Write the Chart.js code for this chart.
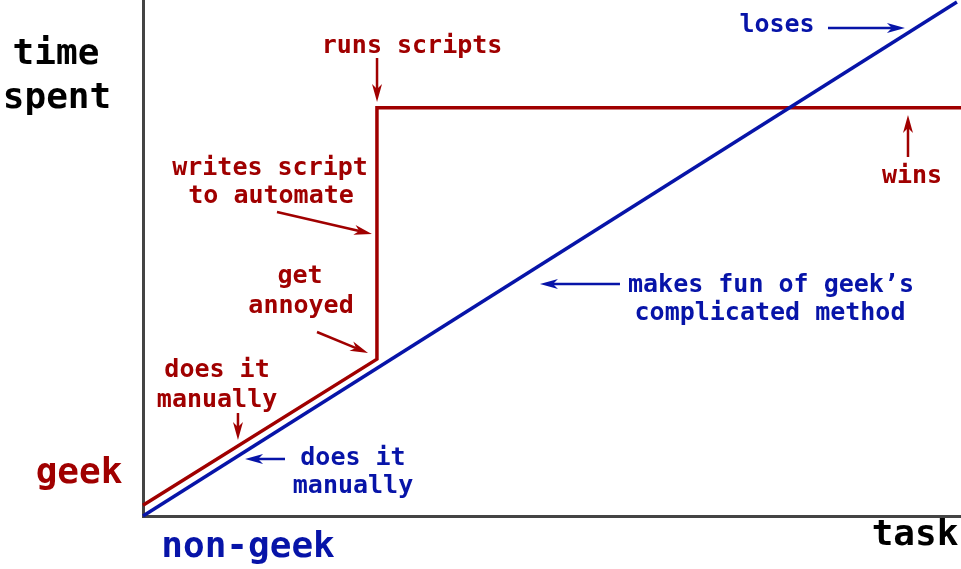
<!DOCTYPE html>
<html>
<head>
<meta charset="utf-8">
<script src="https://cdn.jsdelivr.net/npm/chart.js@4.4.0/dist/chart.umd.min.js"></script>
<style>
  html, body { margin: 0; padding: 0; background: #ffffff; }
  #wrap { width: 961px; height: 569px; position: relative; }
</style>
</head>
<body>
<div id="wrap"><canvas id="c"></canvas></div>
<script>
// ---- data (task on x, time spent on y, both 0..100) ----
const nonGeekX = [0, 99.5];
const nonGeekY = [0, 99.6];
const geekX = [0, 28.6, 28.6, 100];
const geekY = [2.1, 30.4, 79.1, 79.1];

const RED = '#a00000';
const BLUE = '#0714a8';
const BLACK = '#000000';

// text labels: text, x, y (baseline), colour, size
const labelText  = ['time', 'spent', 'geek', 'non-geek', 'task',
  'runs scripts', 'writes script', 'to automate', 'get', 'annoyed',
  'does it', 'manually', 'does it', 'manually', 'loses', 'wins',
  "makes fun of geek\u2019s", 'complicated method'];
const labelX = [-10.64, -10.51, -7.82, 12.84, 94.38,
  32.89, 15.53, 15.65, 19.19, 19.32,
  9.05, 9.05, 25.67, 25.67, 77.51, 94.01, 76.77, 76.65];
const labelY = [87.6, 79.07, 6.4, -7.95, -5.62,
  89.73, 66.09, 60.66, 45.16, 39.34,
  26.94, 21.12, 9.88, 4.46, 93.8, 64.53, 43.41, 37.98];
const labelColor = ['k', 'k', 'r', 'b', 'k',
  'r', 'r', 'r', 'r', 'r',
  'r', 'r', 'b', 'b', 'b', 'r', 'b', 'b'];
const labelBig = [1, 1, 1, 1, 1, 0, 0, 0, 0, 0, 0, 0, 0, 0, 0, 0, 0, 0];

// arrows: from (x1,y1) to (x2,y2)
const arrowX1 = [28.61, 16.38, 21.27, 11.61, 17.36, 58.31, 83.74, 93.52];
const arrowY1 = [88.76, 58.91, 35.66, 19.96, 11.05, 44.96, 94.57, 69.57];
const arrowX2 = [28.61, 27.99, 27.51, 11.61, 12.47, 48.53, 93.15, 93.52];
const arrowY2 = [80.23, 54.65, 31.59, 14.73, 11.05, 44.96, 94.57, 77.71];
const arrowColor = ['r', 'r', 'r', 'r', 'b', 'b', 'b', 'r'];

const colorOf = c => c === 'r' ? RED : (c === 'b' ? BLUE : BLACK);

function pts(xs, ys) { return xs.map((x, i) => ({ x: x, y: ys[i] })); }

const annotate = {
  id: 'annotate',
  afterDatasetsDraw(chart) {
    const ctx = chart.ctx;
    const sx = chart.scales.x, sy = chart.scales.y;
    ctx.save();
    ctx.textAlign = 'center';
    ctx.textBaseline = 'alphabetic';
    labelText.forEach((t, i) => {
      ctx.fillStyle = colorOf(labelColor[i]);
      ctx.font = labelBig[i] ? 'bold 36px "DejaVu Sans Mono"' : 'bold 25px "DejaVu Sans Mono"';
      ctx.fillText(t, sx.getPixelForValue(labelX[i]), sy.getPixelForValue(labelY[i]));
    });
    arrowX1.forEach((_, i) => {
      const x1 = sx.getPixelForValue(arrowX1[i]), y1 = sy.getPixelForValue(arrowY1[i]);
      const x2 = sx.getPixelForValue(arrowX2[i]), y2 = sy.getPixelForValue(arrowY2[i]);
      const col = colorOf(arrowColor[i]);
      const ang = Math.atan2(y2 - y1, x2 - x1);
      const L = 18, W = 5, N = 5;
      ctx.strokeStyle = col; ctx.fillStyle = col; ctx.lineWidth = 2.5;
      ctx.beginPath();
      ctx.moveTo(x1, y1);
      ctx.lineTo(x2 - Math.cos(ang) * (L - N), y2 - Math.sin(ang) * (L - N));
      ctx.stroke();
      ctx.translate(x2, y2); ctx.rotate(ang);
      ctx.beginPath();
      ctx.moveTo(0, 0);
      ctx.lineTo(-L, -W);
      ctx.lineTo(-L + N, 0);
      ctx.lineTo(-L, W);
      ctx.closePath();
      ctx.fill();
      ctx.setTransform(1, 0, 0, 1, 0, 0);
    });
    ctx.restore();
  }
};

new Chart(document.getElementById('c'), {
  type: 'scatter',
  data: {
    datasets: [
      { label: 'non-geek', data: pts(nonGeekX, nonGeekY), showLine: true,
        borderColor: BLUE, borderWidth: 3.5, pointRadius: 0, tension: 0, clip: false },
      { label: 'geek', data: pts(geekX, geekY), showLine: true,
        borderColor: RED, borderWidth: 3.5, pointRadius: 0, tension: 0, clip: false,
        borderJoinStyle: 'miter' }
    ]
  },
  options: {
    responsive: true,
    maintainAspectRatio: false,
    animation: false,
    devicePixelRatio: 1,
    layout: { padding: { left: 143, right: 0, top: 0, bottom: 53 } },
    plugins: { legend: { display: false }, tooltip: { enabled: false } },
    scales: {
      x: { type: 'linear', min: 0, max: 100,
        grid: { display: false, drawTicks: false },
        ticks: { display: false },
        border: { display: true, color: '#444444', width: 3 } },
      y: { type: 'linear', min: 0, max: 100,
        grid: { display: false, drawTicks: false },
        ticks: { display: false },
        border: { display: true, color: '#444444', width: 3 } }
    }
  },
  plugins: [annotate]
});
</script>
</body>
</html>
